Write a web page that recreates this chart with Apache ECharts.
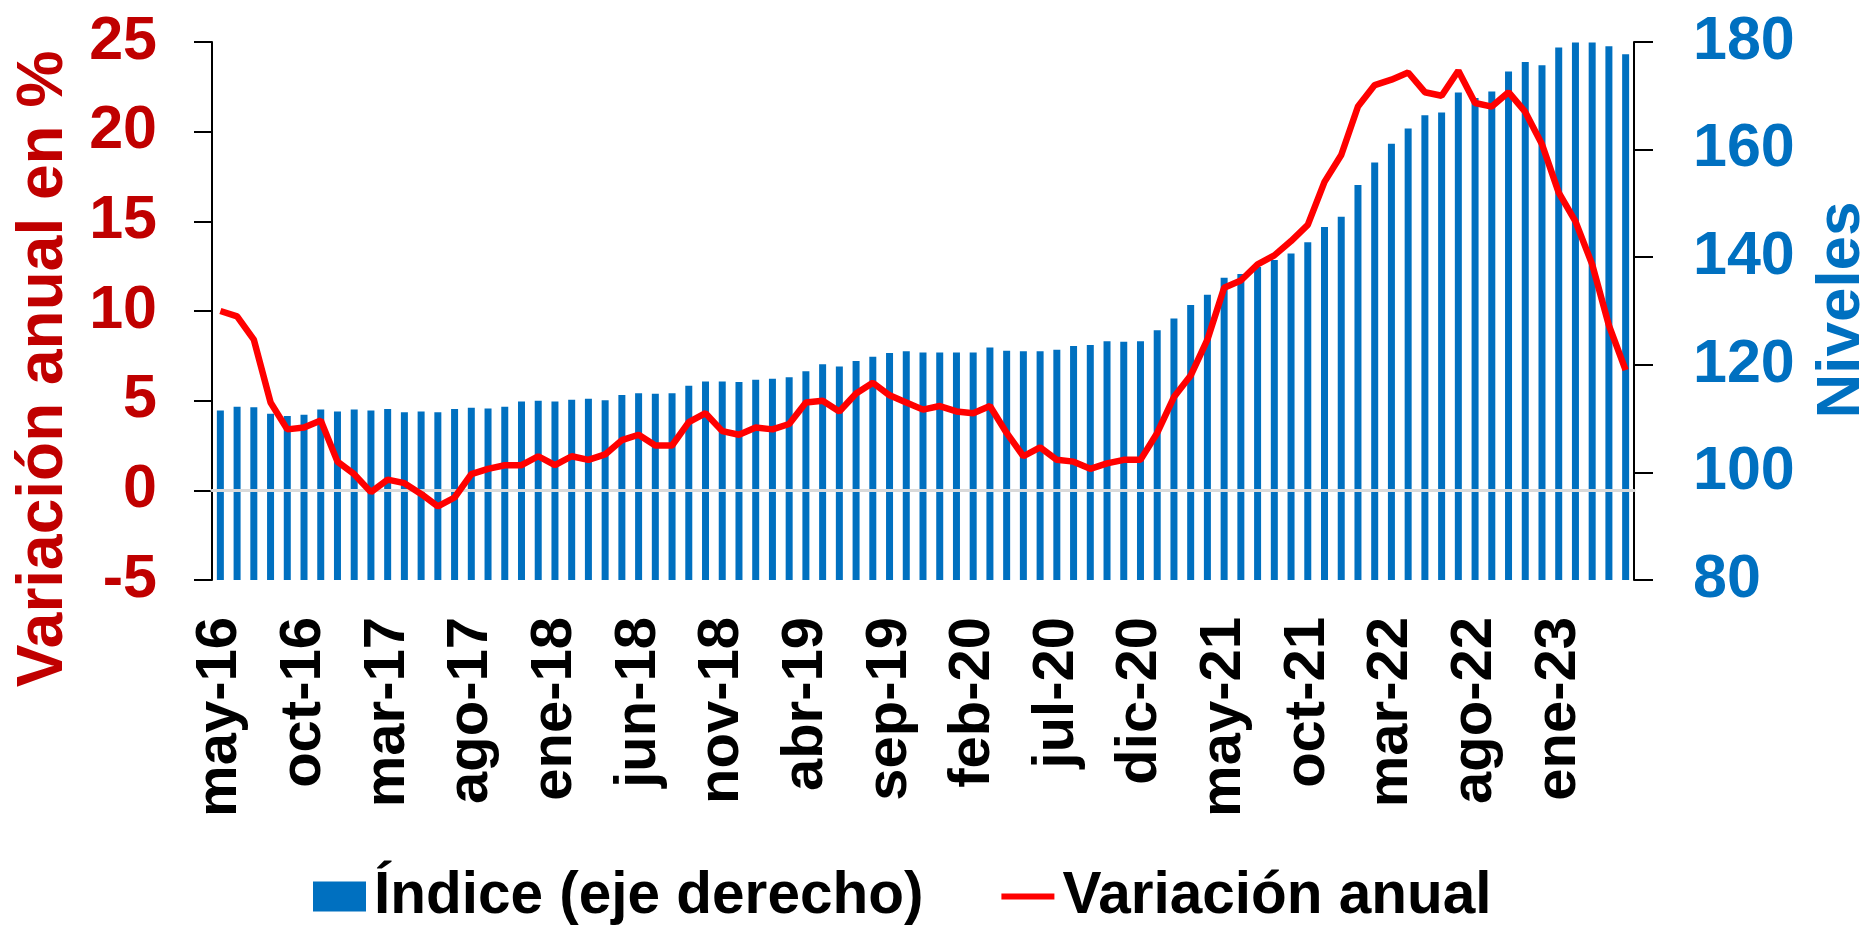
<!DOCTYPE html>
<html>
<head>
<meta charset="utf-8">
<title>Índice y variación anual</title>
<script src="https://cdn.jsdelivr.net/npm/echarts@6/dist/echarts.min.js"></script>
<style>
  html, body { margin: 0; padding: 0; background: #fff; }
  #chart { width: 1870px; height: 930px; }
</style>
</head>
<body>
<div id="chart"></div>
<script>
// meses en castellano, la serie arranca en may-16
const meses = ['ene', 'feb', 'mar', 'abr', 'may', 'jun', 'jul', 'ago', 'sep', 'oct', 'nov', 'dic'];
const categorias = [];
for (let i = 0; i < 85; i++) {
  const m = 4 + i;
  categorias.push(meses[m % 12] + '-' + (16 + Math.floor(m / 12)));
}

// índice (eje derecho), niveles
const indice = [
  111.5, 112.2, 112.1, 110.9, 110.5, 110.7, 111.7, 111.3, 111.7, 111.5,
  111.8, 111.2, 111.3, 111.2, 111.8, 112.0, 111.9, 112.2, 113.2, 113.3,
  113.2, 113.5, 113.7, 113.4, 114.4, 114.7, 114.6, 114.7, 116.1, 116.9,
  116.9, 116.8, 117.2, 117.4, 117.7, 118.8, 120.1, 119.7, 120.7, 121.5,
  122.2, 122.5, 122.3, 122.3, 122.3, 122.3, 123.2, 122.6, 122.5, 122.5,
  122.8, 123.5, 123.7, 124.4, 124.3, 124.4, 126.4, 128.6, 131.1, 133.0,
  136.2, 136.9, 138.2, 139.5, 140.7, 142.8, 145.6, 147.5, 153.4, 157.6,
  161.1, 163.9, 166.4, 166.9, 170.6, 169.6, 170.8, 174.5, 176.3, 175.7,
  179.0, 179.9, 179.9, 179.2, 177.7
];

// variación anual en %
const variacion = [
  10.0, 9.7, 8.4, 4.9, 3.4, 3.5, 3.9, 1.6, 0.9, -0.1,
  0.6, 0.4, -0.2, -0.9, -0.4, 0.9, 1.2, 1.4, 1.4, 1.9,
  1.4, 1.9, 1.7, 2.0, 2.8, 3.1, 2.5, 2.5, 3.8, 4.3,
  3.3, 3.1, 3.5, 3.4, 3.7, 4.9, 5.0, 4.4, 5.4, 6.0,
  5.3, 4.9, 4.5, 4.7, 4.4, 4.3, 4.7, 3.2, 1.9, 2.4,
  1.7, 1.6, 1.2, 1.5, 1.7, 1.7, 3.2, 5.2, 6.4, 8.4,
  11.3, 11.7, 12.6, 13.1, 13.9, 14.8, 17.2, 18.7, 21.4, 22.6,
  22.9, 23.3, 22.2, 22.0, 23.4, 21.6, 21.4, 22.2, 21.1, 19.3,
  16.6, 15.0, 12.6, 9.2, 6.7
];

const fuente = "'Liberation Sans', Arial, sans-serif";
const rojo = '#C00000';
const azul = '#0070C0';

const chart = echarts.init(document.getElementById('chart'));

const option = {
  animation: false,
  textStyle: { fontFamily: fuente },
  grid: {
    left: 212,
    right: 236,
    top: 42,
    bottom: 350,
    outerBoundsMode: 'none'
  },
  legend: {
    left: 308,
    top: 862,
    itemWidth: 53,
    itemHeight: 30,
    itemGap: 78,
    textStyle: {
      fontFamily: fuente,
      fontSize: 58.5,
      fontWeight: 'bold',
      color: '#000',
      padding: [0, 0, 0, 3]
    },
    data: [
      { name: 'Índice (eje derecho)', icon: 'rect' },
      // solo un trazo corto, sin marcador
      { name: 'Variación anual', icon: 'path://M0,0M0,30M0,12L53,12L53,18L0,18Z' }
    ]
  },
  xAxis: [
    {
      // etiquetas abajo
      type: 'category',
      data: categorias,
      position: 'bottom',
      axisLine: { show: false, onZero: false },
      axisTick: { show: false },
      axisLabel: {
        interval: 4,
        rotate: 90,
        margin: 37,
        fontSize: 58,
        fontWeight: 'bold',
        color: '#000',
        fontFamily: fuente
      }
    },
    {
      // línea gris en el cero con sus marcas
      type: 'category',
      data: categorias,
      position: 'bottom',
      z: 3,
      axisLine: {
        onZero: true,
        onZeroAxisIndex: 0,
        lineStyle: { color: '#D9D9D9', width: 3 }
      },
      axisTick: {
        interval: 4,
        length: 17,
        lineStyle: { color: '#D9D9D9', width: 2 }
      },
      axisLabel: { show: false }
    }
  ],
  yAxis: [
    {
      type: 'value',
      min: -5,
      max: 25,
      interval: 5,
      splitLine: { show: false },
      axisLine: { show: true, lineStyle: { color: '#000', width: 2 } },
      axisTick: { show: true, length: 18, lineStyle: { color: '#000', width: 2 } },
      axisLabel: {
        margin: 55,
        fontSize: 61,
        fontWeight: 'bold',
        color: rojo,
        fontFamily: fuente
      }
    },
    {
      type: 'value',
      min: 80,
      max: 180,
      interval: 20,
      position: 'right',
      splitLine: { show: false },
      axisLine: { show: true, lineStyle: { color: '#000', width: 2 } },
      axisTick: { show: true, length: 19, lineStyle: { color: '#000', width: 2 } },
      axisLabel: {
        margin: 59,
        fontSize: 61,
        fontWeight: 'bold',
        color: azul,
        fontFamily: fuente
      }
    }
  ],
  graphic: [
    {
      type: 'text',
      x: 44,
      y: 369,
      rotation: Math.PI / 2,
      style: {
        text: 'Variación anual en %',
        font: 'bold 64px ' + fuente,
        fill: rojo,
        textAlign: 'center',
        textVerticalAlign: 'middle',
        align: 'center',
        verticalAlign: 'middle'
      }
    },
    {
      type: 'text',
      x: 1842,
      y: 310,
      rotation: Math.PI / 2,
      style: {
        text: 'Niveles',
        font: 'bold 62px ' + fuente,
        fill: azul,
        textAlign: 'center',
        textVerticalAlign: 'middle',
        align: 'center',
        verticalAlign: 'middle'
      }
    }
  ],
  series: [
    {
      name: 'Índice (eje derecho)',
      type: 'bar',
      xAxisIndex: 0,
      yAxisIndex: 1,
      barWidth: 7,
      itemStyle: { color: azul },
      data: indice,
      z: 2
    },
    {
      name: 'Variación anual',
      type: 'line',
      xAxisIndex: 0,
      yAxisIndex: 0,
      symbol: 'none',
      lineStyle: { color: '#FF0000', width: 6.5 },
      itemStyle: { color: '#FF0000' },
      data: variacion,
      z: 5
    }
  ]
};

chart.setOption(option);
</script>
</body>
</html>
